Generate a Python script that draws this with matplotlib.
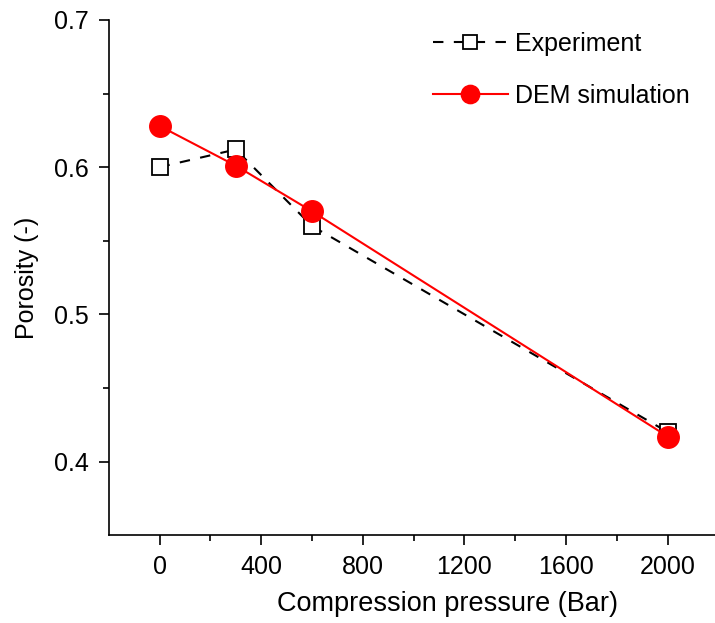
import numpy as np
import matplotlib.pyplot as plt

plt.rcParams['font.family'] = ['Liberation Sans', 'DejaVu Sans']

# data
pressure = [0, 300, 600, 2000]
porosity_exp = [0.600, 0.612, 0.560, 0.420]
porosity_dem = [0.628, 0.601, 0.570, 0.417]

fig = plt.figure(figsize=(7.15, 6.23), dpi=100)
ax = fig.add_axes([0.152, 0.141, 0.853, 0.827])

ax.plot(pressure, porosity_exp, color='black', linestyle=(0, (5, 5)), linewidth=1.5,
        marker='s', markersize=12, markerfacecolor='white', markeredgecolor='black',
        markeredgewidth=1.3, label='Experiment', zorder=2)
ax.plot(pressure, porosity_dem, color='red', linewidth=1.5,
        marker='o', markersize=15.5, markerfacecolor='red', markeredgecolor='red',
        label='DEM simulation', zorder=3)

ax.set_xlim(-200, 2200)
ax.set_ylim(0.35, 0.7)
ax.set_xticks([0, 400, 800, 1200, 1600, 2000])
ax.set_xticks(np.arange(200, 2200, 400), minor=True)
ax.set_yticks([0.4, 0.5, 0.6, 0.7])
ax.set_yticks([0.45, 0.55, 0.65], minor=True)
ax.set_yticklabels(['0.4', '0.5', '0.6', '0.7'])

ax.spines['top'].set_visible(False)
ax.spines['right'].set_visible(False)
ax.spines['left'].set_linewidth(1.2)
ax.spines['bottom'].set_linewidth(1.2)
ax.tick_params(which='major', direction='out', length=7, width=1.2, labelsize=18, pad=7)
ax.tick_params(which='minor', direction='out', length=4, width=1.2)

# the original plot was cropped on the right, so the x label sits off-centre
ax.set_xlabel('Compression pressure (Bar)', fontsize=19.5)
ax.xaxis.set_label_coords(0.556, -0.108)
ax.set_ylabel('Porosity (-)', fontsize=18, labelpad=11)

ax.legend(loc='upper right', bbox_to_anchor=(0.99, 1.02), frameon=False, fontsize=18,
          markerscale=0.85, handlelength=3.0, labelspacing=1.1, handletextpad=0.3)

fig.savefig('out.png', dpi=100)
